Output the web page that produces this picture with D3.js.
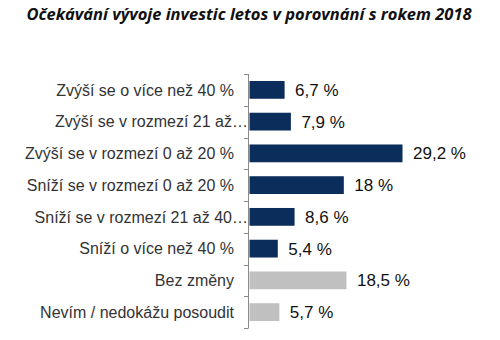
<!DOCTYPE html>
<html>
<head>
<meta charset="utf-8">
<script src="https://cdn.jsdelivr.net/npm/d3@7"></script>
<style>
  html, body { margin: 0; padding: 0; background: #fff; }
  svg { display: block; }
</style>
</head>
<body>
<svg id="chart" width="500" height="340"></svg>
<script>
const title = "Očekávání vývoje investic letos v porovnání s rokem 2018";
const categories = [
  "Zvýší se o více než 40 %",
  "Zvýší se v rozmezí 21 až 40 %",
  "Zvýší se v rozmezí 0 až 20 %",
  "Sníží se v rozmezí 0 až 20 %",
  "Sníží se v rozmezí 21 až 40 %",
  "Sníží o více než 40 %",
  "Bez změny",
  "Nevím / nedokážu posoudit"
];
// Axis labels as shown (long names shortened with an ellipsis)
const tickLabels = [
  "Zvýší se o více než 40 %",
  "Zvýší se v rozmezí 21 až…",
  "Zvýší se v rozmezí 0 až 20 %",
  "Sníží se v rozmezí 0 až 20 %",
  "Sníží se v rozmezí 21 až 40…",
  "Sníží o více než 40 %",
  "Bez změny",
  "Nevím / nedokážu posoudit"
];
const values = [6.7, 7.9, 29.2, 18, 8.6, 5.4, 18.5, 5.7];
const valueLabels = ["6,7 %", "7,9 %", "29,2 %", "18 %", "8,6 %", "5,4 %", "18,5 %", "5,7 %"];
const groups = ["change", "change", "change", "change", "change", "change", "neutral", "neutral"];

const colors = { change: "#0b2d5b", neutral: "#c0c0c0" };

const svg = d3.select("#chart");
const plotLeft = 249, plotTop = 74, plotBottom = 328;

svg.append("text")
  .attr("x", 249)
  .attr("y", 20)
  .attr("text-anchor", "middle")
  .attr("font-family", "'Open Sans', sans-serif")
  .attr("font-weight", "bold")
  .attr("font-style", "italic")
  .attr("font-size", 16.5)
  .attr("fill", "#111")
  .text(title);

const y = d3.scaleBand()
  .domain(categories)
  .range([plotTop, plotBottom])
  .paddingInner(0.44)
  .paddingOuter(0.22);

const x = d3.scaleLinear()
  .domain([0, 29.2])
  .range([plotLeft, plotLeft + 153]);

const rows = categories.map((c, i) => ({
  c, v: values[i], label: valueLabels[i], g: groups[i], tick: tickLabels[i]
}));

svg.append("g")
  .selectAll("rect")
  .data(rows)
  .join("rect")
  .attr("x", x(0) + 0.5)
  .attr("y", d => y(d.c))
  .attr("width", d => x(d.v) - x(0))
  .attr("height", y.bandwidth())
  .attr("fill", d => colors[d.g]);

svg.append("g")
  .selectAll("text")
  .data(rows)
  .join("text")
  .attr("x", d => x(d.v) + 11)
  .attr("y", d => y(d.c) + y.bandwidth() / 2)
  .attr("dy", "0.36em")
  .attr("font-family", "'Liberation Sans', Arial, sans-serif")
  .attr("font-size", 17)
  .attr("fill", "#111")
  .text(d => d.label);

// Axis line with ticks between categories
const axis = svg.append("g").attr("stroke", "#8a8a8a").attr("stroke-width", 1);
axis.append("line")
  .attr("x1", plotLeft - 0.5).attr("x2", plotLeft - 0.5)
  .attr("y1", plotTop).attr("y2", plotBottom);
const boundaries = d3.range(categories.length + 1).map(i => plotTop + i * y.step());
axis.selectAll("line.tick")
  .data(boundaries)
  .join("line")
  .attr("class", "tick")
  .attr("x1", plotLeft - 5).attr("x2", plotLeft - 0.5)
  .attr("y1", d => Math.round(d) + 0.5).attr("y2", d => Math.round(d) + 0.5);

// Category labels; shortened ones run up to the axis
svg.append("g")
  .selectAll("text")
  .data(rows)
  .join("text")
  .attr("x", d => d.tick.endsWith("…") ? plotLeft - 1 : plotLeft - 15)
  .attr("y", d => y(d.c) + y.bandwidth() / 2)
  .attr("dy", "0.36em")
  .attr("text-anchor", "end")
  .attr("font-family", "'Liberation Sans', Arial, sans-serif")
  .attr("font-size", 16)
  .attr("fill", "#333")
  .text(d => d.tick);
</script>
</body>
</html>
